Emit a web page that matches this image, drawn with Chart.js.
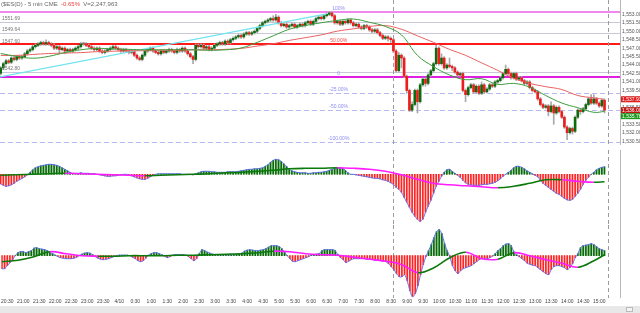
<!DOCTYPE html>
<html>
<head>
<meta charset="utf-8">
<script src="https://cdn.jsdelivr.net/npm/chart.js@4.4.0/dist/chart.umd.min.js"></script>
<style>
body{margin:0;background:#fff;width:640px;height:313px;overflow:hidden;position:relative;font-family:"Liberation Sans",Arial,sans-serif}
.pane{position:absolute;left:0;width:640px}
#hdr{position:absolute;left:1px;top:0;font-size:6px;line-height:8px;color:#666;z-index:5;white-space:nowrap}
#strip{position:absolute;left:0;top:306px;width:640px;height:7px;background:#e8e8e8}
#btn{position:absolute;left:626px;top:307px;width:7px;height:5px;border:1px solid #bbb;background:#f4f4f4;box-sizing:border-box}
</style>
</head>
<body>
<div id="hdr">($ES(D) - 5 min CME &nbsp;<span style="color:#e44">-0.65%</span>&nbsp; V=2,247,963</div>
<div class="pane" style="top:0;height:150px"><canvas id="cA" width="640" height="150"></canvas></div>
<div class="pane" style="top:150px;height:75px"><canvas id="cB" width="640" height="75"></canvas></div>
<div class="pane" style="top:225px;height:81px"><canvas id="cC" width="640" height="81"></canvas></div>
<div id="strip"></div><div id="btn"></div>
<script>
// bars are 5 min apart, bar 0 = 20:30
const FIRST_BAR = -2
const firstOpen = 1542.5
const closes = [
1543.5,1544.25,1544.75,1544.5,1545.25,1545.0,1545.5,1545.25,1545.5,1546.0,
1546.5,1546.75,1547.25,1547.5,1547.75,1548.0,1547.75,1548.0,1547.75,1547.5,
1547.0,1547.25,1546.75,1547.0,1546.5,1546.75,1546.5,1546.75,1547.0,1547.25,
1547.75,1547.75,1547.5,1547.25,1547.0,1546.75,1547.0,1546.5,1546.25,1546.5,
1546.75,1547.0,1547.25,1547.0,1546.75,1546.5,1546.75,1546.5,1546.25,1546.5,
1545.75,1545.25,1545.0,1545.75,1546.5,1546.75,1547.0,1546.5,1546.25,1546.0,
1546.5,1546.25,1546.5,1546.75,1546.5,1546.25,1546.75,1546.5,1547.0,1546.5,
1546.0,1545.5,1545.0,1547.5,1547.25,1547.5,1547.0,1547.25,1546.75,1547.0,
1547.5,1547.75,1548.0,1547.75,1548.25,1548.0,1548.5,1548.75,1549.0,1549.25,
1549.0,1549.5,1549.75,1549.5,1549.75,1550.0,1550.5,1551.0,1551.5,1551.75,
1552.0,1552.25,1552.0,1552.5,1551.5,1551.0,1551.25,1550.75,1551.0,1551.25,
1550.75,1551.0,1551.25,1551.0,1551.5,1551.75,1551.25,1551.75,1552.25,1552.5,
1552.25,1552.75,1553.0,1553.25,1552.75,1551.5,1551.75,1551.25,1551.75,1551.5,
1552.0,1551.5,1551.0,1551.25,1550.75,1550.5,1551.0,1550.75,1550.25,1550.0,
1550.25,1549.75,1549.25,1548.75,1549.0,1548.75,1548.5,1546.5,1543.0,1545.75,
1545.25,1542.0,1539.5,1536.0,1537.0,1539.5,1537.5,1540.5,1541.5,1540.75,
1542.25,1543.0,1544.25,1547.0,1544.25,1545.25,1543.5,1544.0,1543.75,1543.5,
1542.75,1542.25,1542.5,1539.5,1538.75,1540.0,1540.5,1539.25,1540.25,1539.0,
1540.5,1539.25,1539.75,1540.5,1540.25,1541.0,1541.25,1541.75,1542.5,1543.25,
1542.5,1541.75,1542.5,1541.5,1541.75,1541.25,1540.75,1541.0,1540.0,1539.5,
1539.25,1538.0,1537.0,1536.5,1536.75,1535.75,1536.75,1535.5,1536.5,1535.75,
1534.75,1533.0,1532.0,1532.75,1532.25,1534.75,1536.0,1535.75,1536.25,1537.0,
1538.0,1537.25,1538.0,1537.25,1536.75,1537.75,1536.0]
const highs = [
1543.75,1544.5,1545.0,1545.0,1545.5,1545.5,1545.75,1545.75,1545.75,1546.25,
1546.75,1547.0,1547.5,1547.75,1548.0,1548.25,1548.25,1548.5,1548.25,1548.0,
1547.75,1547.5,1547.5,1547.25,1547.25,1547.0,1547.0,1547.0,1547.25,1547.5,
1548.0,1548.0,1548.0,1547.75,1547.5,1547.25,1547.25,1547.25,1546.75,1546.75,
1547.0,1547.25,1547.5,1547.5,1547.25,1547.0,1547.0,1547.0,1546.75,1546.75,
1546.75,1546.0,1545.5,1546.0,1546.75,1547.0,1547.25,1547.25,1546.75,1546.5,
1546.75,1546.75,1546.75,1547.0,1547.0,1546.75,1547.0,1547.0,1547.25,1547.25,
1546.75,1546.25,1545.75,1547.75,1547.75,1547.75,1547.75,1547.5,1547.5,1547.25,
1547.75,1548.0,1548.25,1548.25,1548.5,1548.5,1548.75,1549.0,1549.25,1549.5,
1549.5,1549.75,1550.0,1550.0,1550.0,1550.25,1550.75,1551.25,1551.75,1552.0,
1552.25,1552.5,1552.75,1553.0,1552.75,1551.75,1551.5,1551.5,1551.25,1551.5,
1551.5,1551.25,1551.5,1551.5,1551.75,1552.0,1552.0,1552.0,1552.5,1552.75,
1552.75,1553.0,1553.25,1553.5,1553.5,1553.0,1552.0,1552.0,1552.0,1552.0,
1552.25,1552.25,1551.75,1551.5,1551.5,1551.0,1551.25,1551.25,1551.0,1550.5,
1550.5,1550.5,1550.0,1549.5,1549.25,1549.25,1549.0,1548.75,1546.75,1546.25,
1546.0,1545.5,1542.25,1539.75,1537.5,1539.75,1539.75,1540.75,1541.75,1541.75,
1542.5,1543.25,1544.5,1547.5,1547.25,1546.0,1545.5,1544.25,1545.25,1544.0,
1543.75,1543.0,1542.75,1542.75,1539.75,1540.25,1540.75,1540.75,1540.5,1540.5,
1541.0,1540.75,1540.0,1540.75,1540.75,1541.25,1541.5,1542.0,1542.75,1544.0,
1543.5,1542.75,1542.75,1542.75,1542.0,1542.0,1541.5,1541.25,1541.25,1540.25,
1539.75,1539.5,1538.25,1537.25,1537.0,1537.0,1537.5,1537.0,1536.75,1536.75,
1536.0,1535.0,1533.25,1533.0,1533.0,1535.0,1536.25,1536.25,1536.5,1537.25,
1538.25,1538.75,1538.75,1538.25,1537.5,1538.0,1538.0]
const lows = [
1542.25,1543.25,1544.0,1544.25,1544.25,1544.75,1544.75,1545.0,1545.0,1545.25,
1545.75,1546.25,1546.5,1547.0,1547.25,1547.5,1547.5,1547.5,1547.5,1547.25,
1546.75,1546.75,1546.0,1546.5,1546.0,1546.25,1546.25,1546.25,1546.5,1546.75,
1547.0,1547.5,1547.25,1547.0,1546.75,1546.5,1546.5,1546.25,1546.0,1546.0,
1546.25,1546.5,1546.75,1546.75,1546.5,1546.25,1546.25,1546.25,1546.0,1546.0,
1545.5,1545.0,1544.75,1544.75,1545.5,1546.25,1546.5,1546.25,1546.0,1545.75,
1545.75,1546.0,1546.0,1546.25,1546.25,1546.0,1546.0,1546.25,1546.25,1546.25,
1545.75,1545.25,1544.25,1544.75,1547.0,1547.0,1546.75,1546.75,1546.5,1546.5,
1546.75,1547.25,1547.5,1547.5,1547.5,1547.75,1547.75,1548.25,1548.5,1548.75,
1548.75,1548.75,1549.25,1549.25,1549.25,1549.5,1549.75,1550.25,1550.75,1551.25,
1551.5,1551.75,1551.75,1551.75,1551.25,1550.75,1550.75,1550.5,1550.5,1550.75,
1550.5,1550.5,1550.75,1550.75,1550.75,1551.25,1551.0,1551.0,1551.5,1552.0,
1552.0,1552.0,1552.5,1552.75,1552.5,1551.25,1551.25,1551.0,1551.0,1551.25,
1551.25,1551.25,1550.75,1550.75,1550.5,1550.25,1550.25,1550.5,1550.0,1549.75,
1549.75,1549.5,1549.0,1548.5,1548.5,1548.25,1548.0,1546.25,1542.75,1542.75,
1543.5,1541.75,1539.0,1535.75,1535.75,1536.75,1535.5,1537.25,1540.25,1540.25,
1540.5,1542.0,1542.75,1544.0,1544.0,1544.0,1543.25,1543.25,1543.5,1543.0,
1542.5,1542.0,1542.0,1539.25,1537.5,1538.5,1539.75,1539.0,1539.0,1538.75,
1538.75,1539.0,1539.0,1539.5,1540.0,1540.0,1540.75,1541.0,1541.5,1542.25,
1542.25,1541.5,1541.5,1541.25,1541.25,1541.0,1540.5,1540.5,1539.75,1539.25,
1539.0,1537.75,1536.75,1536.25,1536.25,1535.0,1535.5,1533.5,1535.25,1535.5,
1534.5,1532.75,1530.75,1531.75,1531.75,1532.0,1534.5,1535.25,1535.5,1536.0,
1536.75,1537.0,1537.0,1537.0,1536.5,1536.5,1535.5]

// moving averages and signal lines, read every 6 bars
const maBars = [-2,4,10,16,22,28,34,40,46,52,58,64,70,76,82,88,94,100,106,112,118,124,130,136,142,148,154,160,166,172,178,184,190,196,202,208,214,220,224]
const greenMA = [1546.05,1545.55,1545.22,1545.55,1546.21,1546.71,1546.96,1546.87,1546.79,1546.71,1546.71,1546.71,1546.71,1546.63,1546.71,1547.04,1548.03,1549.19,1550.35,1551.01,1551.51,1551.92,1552.17,1551.59,1550.85,1549.36,1545.72,1543.73,1542.24,1541.41,1541.58,1540.58,1540.75,1540.09,1538.60,1537.27,1536.44,1535.62,1535.78]
const redMA = [1545.72,1545.72,1545.88,1546.05,1546.13,1546.21,1546.38,1546.46,1546.54,1546.54,1546.63,1546.63,1546.71,1546.71,1546.79,1546.96,1547.37,1547.79,1548.37,1548.86,1549.36,1550.02,1550.43,1550.85,1551.01,1550.35,1549.19,1548.03,1546.79,1545.72,1544.39,1543.07,1541.66,1540.75,1540.17,1539.67,1538.60,1538.18,1537.93]

const hist1 = [
-9.5,-11,-12,-11.5,-10.5,-9,-7,-5.5,-4,-2.5,
-0.5,2,4.5,6.5,7.5,8.5,9,9.5,10,10,
9.5,9,8,6.5,5,3.5,2,1,1,1,
1.5,1,1,1,0.5,0.5,0,-0.5,-1,-1.5,
-2,-2,-1.5,-1.5,-1,-0.5,0,0,-0.5,-1.5,
-2.5,-3.5,-4.5,-5,-5,-4,-2.5,-1,0,0.5,
0.5,0.5,0.5,0.5,0.5,0.5,0.5,0.5,0,0,
0,0,-0.5,0.5,1.5,2.5,3,3,3,2.5,
2.5,2,2,2,2,2.5,2.5,2.5,2.5,3,
3.5,4,4.5,5,5,5.5,5.5,6,6.5,8,
9.5,12,14,15,14.5,13,10.5,8,5,3.5,
2.5,2,1.5,1.5,1.5,1,1,1.5,1.5,2,
2,2.5,3,4,5,6,6.5,6.5,6,4,
1.5,0,0,-0.5,-1,-1.5,-2,-2.5,-3,-3.5,
-4,-4,-4.5,-5.5,-6,-7,-8.5,-10,-13,-15,
-18,-23,-28,-33,-38,-42,-45,-47,-45,-38,
-32,-26,-19,-12,-7,-2,2,4.5,5,3,
1,-1,-3,-6,-8.5,-10,-10.5,-11,-11,-11,
-10.5,-10,-10,-9.5,-9,-8,-6.5,-4.5,-2,0,
2,4,6.5,8,8,7,5.5,3.5,2,0.5,
-1,-2.5,-6,-9,-11,-13,-15,-17,-19,-20,
-22,-24,-25.5,-26,-25,-22,-19,-15,-10,-6,
-3,0,2,4.5,6,7,7.5]
const signal1 = [-1,-0.5,0,0.5,1,0.5,0,-0.5,-1,-1.5,-1,-0.5,0,0.5,1.5,2,3,4,5.5,6,6,6.5,6,5,3,-0.5,-5,-9,-10.5,-11.5,-12.5,-13.5,-12,-9,-5.5,-5.5,-7,-8,-7.5]

const hist2 = [
-13,-13,-10,-7,-4,0,3,4,4,3,
4,5,7.5,8,7,6.5,6,5,3.5,2,
0.5,-1,-2,-2.5,-3,-3,-3,-2.5,-1.5,0,
1.5,2.5,3,2.5,1,-1,-2.5,-3.5,-4,-3.5,
-3,-2,-1,0,0.5,0.5,0.5,0.5,0,-1.5,
-3,-5,-6,-5,-2.5,0.5,2,3,3,2,
1,-0.5,-2,-1,0.5,1,1,1,1,0.5,
-1,-3,-5,-3,2,6,5,3.5,2.5,1.5,
1,1,1,1,1,1,1,1,1.5,2,
2.5,4.5,5.5,6,5.5,5,5,5.5,6,7,
8.5,10,10,10,9,7,3.5,0,-3,-5.5,
-6,-5,-4,-3,-2,-1,0.5,1,1.5,2,
5,6,6,6,6,5,1,-2,-4,-7,
-5.5,-4,-3,-3,-3,-3,-3,-3.5,-3.5,-4,
-4.5,-4.5,-5,-5.5,-6,-8,-11,-14,-18,-21,
-21,-19,-25,-35,-41,-38,-30,-19,-9,-1,
5,11,18,24,26,22,12,5,-1,-10,
-15,-18,-15,-13,-12,-11,-10,-8,-6,-4,
-3,-3,-3,-2,-0.5,2,5,7,10,11.5,
12,10,4,1,-1,-3,-5,-7.5,-8.5,-9.5,
-10,-12,-14,-16,-18,-19,-14,-11,-10,-10,
-11,-12,-14,-12,-8,-2,2,8,10,10.5,
11,12,11,9,7,6,5]
const signal2 = [-6,-4.5,-1,4,2,0,-0.5,-0.5,0,0,0,0.5,0.5,1,1.5,2,3,4.5,4,2,1,0.5,-1.5,-3.5,-5.5,-9,-17,-12,-2,3.5,-3,-3.5,3,0,-4,-7.5,-11.5,-5,1]

const timeLabels = ['20:30','21:00','21:30','22:00','22:30','23:00','23:30','4/10','0:30','1:00','1:30','2:00','2:30','3:00','3:30','4:00','4:30','5:00','5:30','6:00','6:30','7:00','7:30','8:00','8:30','9:00','9:30','10:00','10:30','11:00','11:30','12:00','12:30','13:00','13:30','14:00','14:30','15:00']
const priceTicks = [1530.5,1532,1533.5,1535,1536.5,1538,1539.5,1541,1542.5,1544,1545.5,1547,1548.5,1550,1551.5,1553]

// fib retracement drawn on the chart
const fibLow = 1541.86
const fibHigh = 1553.45
const fibRatios = [1, 0.5, 0, -0.25, -0.5, -1]
const fibLabels = ['100%', '50.00%', '0', '-25.00%', '-50.00%', '-100.00%']
const refLines = [1551.69, 1549.64, 1542.80]
const leftLabels = [1551.69, 1549.64, 1547.60, 1542.80]
const trendBars = [-2.245, 120]
const trendPrices = [1541.9, 1553.1]
const markerBars = [144.8, 225.3]

const X_MIN = -2.245, X_MAX = 229.8
Chart.defaults.font.family = '"Liberation Sans", Arial, sans-serif'
Chart.defaults.animation = false

const opens = closes.map((c, k) => k === 0 ? firstOpen : closes[k - 1])
const bars = closes.map((c, k) => k + FIRST_BAR)
const fmt = v => v.toLocaleString('en-US', {minimumFractionDigits: 2, maximumFractionDigits: 2})

function xAxis(show) {
  return {type: 'linear', min: X_MIN, max: X_MAX, offset: false, display: show,
    grid: {display: false, drawTicks: false}, border: {display: false}}
}

function hline(ctx, a, py, color, w, dash) {
  ctx.beginPath()
  ctx.setLineDash(dash)
  ctx.strokeStyle = color
  ctx.lineWidth = w
  const yy = w % 2 ? Math.round(py) + 0.5 : Math.round(py)
  ctx.moveTo(a.left, yy)
  ctx.lineTo(a.right, yy)
  ctx.stroke()
}

function frame(ctx, chart) {
  const a = chart.chartArea, x = chart.scales.x
  ctx.save()
  markerBars.forEach(b => {
    const px = Math.round(x.getPixelForValue(b)) + 0.5
    ctx.beginPath()
    ctx.setLineDash([4, 3])
    ctx.strokeStyle = '#9c9c9c'
    ctx.lineWidth = 1
    ctx.moveTo(px, 0)
    ctx.lineTo(px, a.bottom)
    ctx.stroke()
  })
  ctx.setLineDash([])
  ctx.strokeStyle = '#b8b8b8'
  ctx.beginPath()
  ctx.moveTo(a.right + 0.5, 0)
  ctx.lineTo(a.right + 0.5, a.bottom)
  ctx.stroke()
  ctx.restore()
}

const mainDeco = {
  id: 'mainDeco',
  beforeDatasetsDraw(chart) {
    const {ctx, chartArea: a, scales: {y}} = chart
    ctx.save()
    refLines.forEach(v => hline(ctx, a, y.getPixelForValue(v), '#c8c8d8', 1, []))
    fibRatios.forEach(r => {
      const py = y.getPixelForValue(fibLow + r * (fibHigh - fibLow))
      if (r === 1) hline(ctx, a, py, '#ee88ee', 2, [])
      else if (r === 0.5) hline(ctx, a, py, '#ff1a1a', 2, [])
      else if (r === 0) hline(ctx, a, py, '#e020e0', 2, [])
      else hline(ctx, a, py, '#b8b8f4', 1, [5, 3])
    })
    ctx.restore()
    frame(ctx, chart)
  },
  afterDatasetsDraw(chart) {
    const {ctx, chartArea: a, scales: {x, y}} = chart
    ctx.save()
    ctx.font = '5px "Liberation Sans", Arial, sans-serif'
    ctx.textBaseline = 'bottom'
    ctx.fillStyle = '#777'
    ctx.textAlign = 'left'
    leftLabels.forEach(v => ctx.fillText(v.toFixed(2), a.left + 2, y.getPixelForValue(v) - 1))
    ctx.textAlign = 'center'
    fibRatios.forEach((r, k) => {
      ctx.fillStyle = r === 0.5 ? '#ff4444' : '#8c8cf0'
      ctx.fillText(fibLabels[k], x.getPixelForValue(124.5), y.getPixelForValue(fibLow + r * (fibHigh - fibLow)) - 1)
    })
    // value boxes on the price axis
    const marks = [
      {v: redMA[redMA.length - 1], bg: '#e02020'},
      {v: closes[closes.length - 1], bg: '#c01818'},
      {v: greenMA[greenMA.length - 1], bg: '#1e9a1e'}
    ]
    let last = -99
    ctx.textAlign = 'left'
    ctx.textBaseline = 'middle'
    marks.forEach(m => {
      let py = Math.max(y.getPixelForValue(m.v), last + 6)
      last = py
      ctx.fillStyle = m.bg
      ctx.fillRect(a.right + 1, py - 3, 19, 6)
      ctx.fillStyle = '#fff'
      ctx.fillText(fmt(m.v), a.right + 2, py + 0.5)
    })
    ctx.restore()
  }
}

const candleColor = (o, c) => c > o ? '#0c6b0c' : (c < o ? '#ee1c1c' : '#777')

new Chart(document.getElementById('cA'), {
  type: 'bar',
  data: {
    datasets: [
      {type: 'line', data: maBars.map((b, k) => ({x: b, y: greenMA[k]})), borderColor: '#3d9d3d', borderWidth: 1, pointRadius: 0, tension: 0.4, order: 0},
      {type: 'line', data: maBars.map((b, k) => ({x: b, y: redMA[k]})), borderColor: '#e86060', borderWidth: 1, pointRadius: 0, tension: 0.4, order: 0},
      {type: 'line', data: trendBars.map((b, k) => ({x: b, y: trendPrices[k]})), borderColor: '#72e4f0', borderWidth: 1.2, pointRadius: 0, order: 0},
      {data: bars.map((b, k) => ({x: b, y: [opens[k], closes[k]]})), backgroundColor: closes.map((c, k) => candleColor(opens[k], c)),
        barThickness: 2, minBarLength: 1, grouped: false, order: 1},
      {data: bars.map((b, k) => ({x: b, y: [lows[k], highs[k]]})), backgroundColor: '#a8a8a8',
        barThickness: 1, grouped: false, order: 2}
    ]
  },
  options: {
    responsive: false, events: [],
    layout: {padding: 0},
    plugins: {legend: {display: false}, tooltip: {enabled: false}},
    scales: {
      x: xAxis(false),
      y: {type: 'linear', position: 'right', min: 1529.82, max: 1554.66,
        grid: {display: false, drawTicks: false}, border: {display: false},
        afterBuildTicks: s => { s.ticks = priceTicks.map(v => ({value: v})) },
        afterFit: s => { s.width = 20 },
        ticks: {font: {size: 5}, color: '#555', padding: 2, callback: v => fmt(v)}}
    }
  },
  plugins: [mainDeco]
})

function indicator(id, hist, signal, ymin, ymax, showX) {
  const deco = {id: 'deco' + id, beforeDatasetsDraw(chart) { frame(chart.ctx, chart) }}
  const x = xAxis(showX)
  if (showX) {
    x.afterBuildTicks = s => { s.ticks = timeLabels.map((t, k) => ({value: k * 6})) }
    x.afterFit = s => { s.height = 8 }
    x.ticks = {font: {size: 5}, color: '#444', padding: 1, autoSkip: false, maxRotation: 0, minRotation: 0,
      callback: (v, k) => timeLabels[k]}
  }
  new Chart(document.getElementById(id), {
    type: 'bar',
    data: {
      datasets: [
        {type: 'line', data: maBars.map((b, k) => ({x: b, y: signal[k]})), borderWidth: 1.6, pointRadius: 0, tension: 0.4,
          segment: {borderColor: c => c.p1.parsed.y >= c.p0.parsed.y ? '#0b7a0b' : '#ff1cff'}, order: 0},
        {type: 'line', data: bars.map((b, k) => ({x: b, y: hist[k]})), borderColor: '#6474ee', borderWidth: 1, pointRadius: 0, tension: 0.3,
          fill: {target: 'origin', above: 'rgba(0,110,0,0.22)', below: 'rgba(255,70,70,0.10)'}, order: 1},
        {data: bars.map((b, k) => ({x: b, y: hist[k]})), backgroundColor: hist.map(v => v >= 0 ? '#0c6b0c' : '#ff2020'),
          barThickness: 1, grouped: false, order: 2}
      ]
    },
    options: {
      responsive: false, events: [],
      layout: {padding: {right: 20}},
      plugins: {legend: {display: false}, tooltip: {enabled: false}},
      scales: {x: x, y: {type: 'linear', display: false, min: ymin, max: ymax}}
    },
    plugins: [deco]
  })
}

indicator('cB', hist1, signal1, -50.7, 24.3, false)
indicator('cC', hist2, signal2, -42.3, 30.7, true)
</script>
</body>
</html>
